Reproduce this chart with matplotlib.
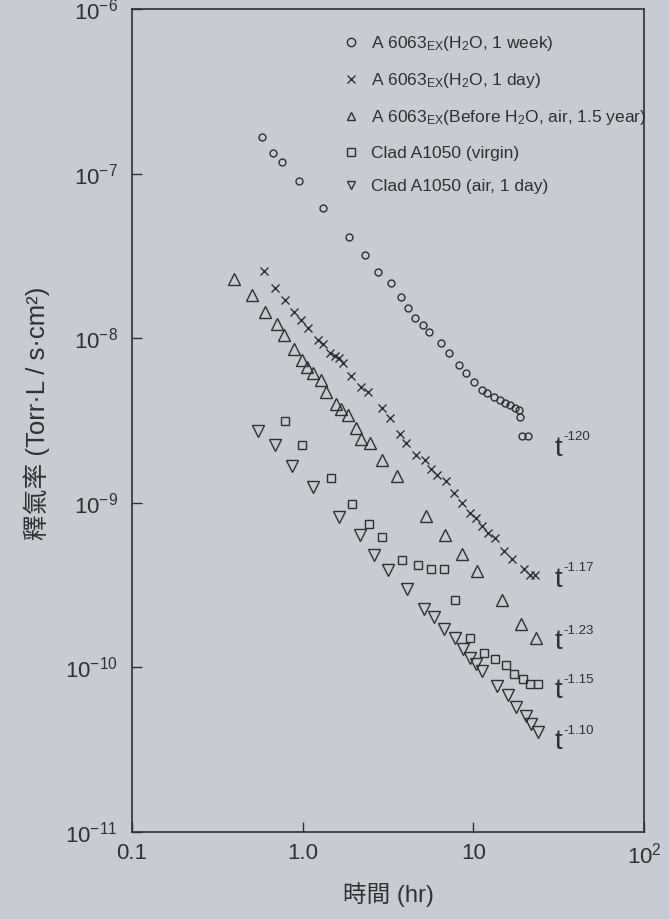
import numpy as np
import matplotlib
matplotlib.use('Agg')
import matplotlib.pyplot as plt

plt.rcParams['font.family'] = ['Liberation Sans', 'Noto Sans CJK TC', 'DejaVu Sans']
plt.rcParams['mathtext.fontset'] = 'custom'
plt.rcParams['mathtext.rm'] = 'Liberation Sans'
plt.rcParams['mathtext.it'] = 'Liberation Sans'

PAPER = '#c8ccd2'
INK = '#2e3033'

# outgassing rate vs time, five samples
t_week = [0.58, 0.67, 0.76, 0.95, 1.31, 1.88, 2.32, 2.78, 3.28, 3.77, 4.13, 4.56, 5.08, 5.51,
          6.49, 7.24, 8.18, 9.1, 10.05, 11.2, 12.0, 13.2, 14.3, 15.3, 16.4, 17.5, 18.5, 18.7,
          19.3, 20.9]
q_week = [1.66e-7, 1.34e-7, 1.18e-7, 9.06e-8, 6.2e-8, 4.13e-8, 3.21e-8, 2.52e-8, 2.16e-8,
          1.78e-8, 1.52e-8, 1.32e-8, 1.20e-8, 1.09e-8, 9.3e-9, 8.1e-9, 6.84e-9, 6.12e-9,
          5.40e-9, 4.82e-9, 4.62e-9, 4.37e-9, 4.19e-9, 4.02e-9, 3.90e-9, 3.79e-9, 3.64e-9,
          3.30e-9, 2.56e-9, 2.56e-9]

t_day = [0.597, 0.686, 0.786, 0.889, 0.978, 1.074, 1.23, 1.32, 1.45, 1.55, 1.64, 1.73, 1.91,
         2.19, 2.43, 2.91, 3.24, 3.72, 4.04, 4.62, 5.22, 5.61, 6.08, 6.87, 7.67, 8.57, 9.56,
         10.4, 11.2, 12.2, 13.3, 15.2, 16.9, 19.9, 21.3, 22.8]
q_day = [2.56e-8, 2.02e-8, 1.71e-8, 1.44e-8, 1.29e-8, 1.15e-8, 9.73e-9, 9.19e-9, 8.1e-9,
         7.77e-9, 7.55e-9, 7.04e-9, 5.87e-9, 5.02e-9, 4.69e-9, 3.74e-9, 3.25e-9, 2.60e-9,
         2.29e-9, 1.96e-9, 1.83e-9, 1.61e-9, 1.48e-9, 1.36e-9, 1.15e-9, 1.0e-9, 8.69e-10,
         8.1e-10, 7.24e-10, 6.56e-10, 6.12e-10, 5.1e-10, 4.56e-10, 3.96e-10, 3.64e-10, 3.64e-10]

t_before = [0.395, 0.505, 0.603, 0.710, 0.782, 0.896, 0.986, 1.06, 1.15, 1.28, 1.37, 1.57,
            1.68, 1.85, 2.06, 2.21, 2.47, 2.90, 3.56, 5.30, 6.78, 8.55, 10.5, 14.6, 19.1, 23.1]
q_before = [2.29e-8, 1.83e-8, 1.44e-8, 1.22e-8, 1.04e-8, 8.57e-9, 7.34e-9, 6.65e-9, 6.12e-9,
            5.55e-9, 4.69e-9, 3.96e-9, 3.69e-9, 3.39e-9, 2.86e-9, 2.45e-9, 2.32e-9, 1.83e-9,
            1.46e-9, 8.34e-10, 6.38e-10, 4.89e-10, 3.85e-10, 2.56e-10, 1.83e-10, 1.50e-10]

t_virgin = [0.786, 0.99, 1.47, 1.94, 2.44, 2.92, 3.84, 4.76, 5.66, 6.73, 7.76, 9.57, 11.6,
            13.4, 15.6, 17.2, 19.4, 21.3, 24.0]
q_virgin = [3.12e-9, 2.23e-9, 1.42e-9, 9.86e-10, 7.45e-10, 6.21e-10, 4.49e-10, 4.19e-10,
            3.96e-10, 3.96e-10, 2.56e-10, 1.50e-10, 1.22e-10, 1.12e-10, 1.03e-10, 9.06e-11,
            8.45e-11, 7.87e-11, 7.87e-11]

t_air = [0.550, 0.692, 0.871, 1.15, 1.63, 2.17, 2.63, 3.18, 4.06, 5.13, 5.87, 6.73, 7.83,
         8.73, 9.61, 10.3, 11.3, 13.7, 15.9, 17.8, 20.3, 21.8, 24.0]
q_air = [2.71e-9, 2.23e-9, 1.68e-9, 1.25e-9, 8.22e-10, 6.38e-10, 4.82e-10, 3.90e-10,
         2.99e-10, 2.26e-10, 2.02e-10, 1.71e-10, 1.50e-10, 1.29e-10, 1.14e-10, 1.04e-10,
         9.46e-11, 7.66e-11, 6.75e-11, 5.70e-11, 5.02e-11, 4.49e-11, 4.02e-11]

labels = [r'A 6063$_{\mathrm{EX}}$(H$_2$O, 1 week)',
          r'A 6063$_{\mathrm{EX}}$(H$_2$O, 1 day)',
          r'A 6063$_{\mathrm{EX}}$(Before H$_2$O, air, 1.5 year)',
          'Clad A1050 (virgin)',
          'Clad A1050 (air, 1 day)']

# power-law exponents written beside each series
exponents = ['-120', '-1.17', '-1.23', '-1.15', '-1.10']
exp_t = 30
exp_q = [2.13e-9, 3.39e-10, 1.42e-10, 7.15e-11, 3.49e-11]

xticks = [0.1, 1.0, 10, 100]
xticklabels = ['0.1', '1.0', '10', r'10$^2$']
yticks = [1e-11, 1e-10, 1e-9, 1e-8, 1e-7, 1e-6]
yticklabels = [r'10$^{-11}$', r'10$^{-10}$', r'10$^{-9}$', r'10$^{-8}$', r'10$^{-7}$', r'10$^{-6}$']

fig = plt.figure(figsize=(6.69, 9.19), dpi=100, facecolor=PAPER)
ax = fig.add_axes([0.197, 0.095, 0.766, 0.895])
ax.set_facecolor(PAPER)

style = dict(ls='none', mfc='none', mec=INK, color=INK)
ax.plot(t_week, q_week, 'o', ms=5, mew=1.0, label=labels[0], **style)
ax.plot(t_day, q_day, 'x', ms=6, mew=1.0, label=labels[1], **style)
ax.plot(t_before, q_before, '^', ms=9, mew=1.0, label=labels[2], **style)
ax.plot(t_virgin, q_virgin, 's', ms=5.5, mew=1.0, label=labels[3], **style)
ax.plot(t_air, q_air, 'v', ms=9, mew=1.0, label=labels[4], **style)

for e, q in zip(exponents, exp_q):
    ax.text(exp_t, q, 't', fontsize=20, color=INK, ha='left', va='center')
    ax.annotate(e, (exp_t, q), xytext=(6, 4), textcoords='offset points',
                fontsize=9.5, color=INK, ha='left', va='bottom')

ax.set_xscale('log')
ax.set_yscale('log')
ax.set_xlim(0.1, 100)
ax.set_ylim(1e-11, 1e-6)
ax.set_xticks(xticks)
ax.set_xticklabels(xticklabels)
ax.set_yticks(yticks)
ax.set_yticklabels(yticklabels)
ax.minorticks_off()
ax.tick_params(direction='in', length=7, width=1, colors=INK, labelsize=16, pad=8)
ax.tick_params(axis='y', pad=10)
for s in ax.spines.values():
    s.set_color(INK)
    s.set_linewidth(1.2)

ax.set_xlabel('時間 (hr)', fontsize=17, color=INK, labelpad=10)
ax.set_ylabel('釋氣率 (Torr·L / s·cm²)', fontsize=18.5, color=INK)
ax.yaxis.set_label_coords(-0.16, 0.509)

leg = ax.legend(loc='upper left', bbox_to_anchor=(0.415, 0.97), frameon=False,
                fontsize=12.5, handlelength=0.8, handletextpad=0.7, labelspacing=1.05,
                labelcolor=INK, borderaxespad=0, borderpad=0)
for h in leg.legend_handles:
    h.set_markersize(6)

fig.savefig('out.png', dpi=100, facecolor=PAPER)
